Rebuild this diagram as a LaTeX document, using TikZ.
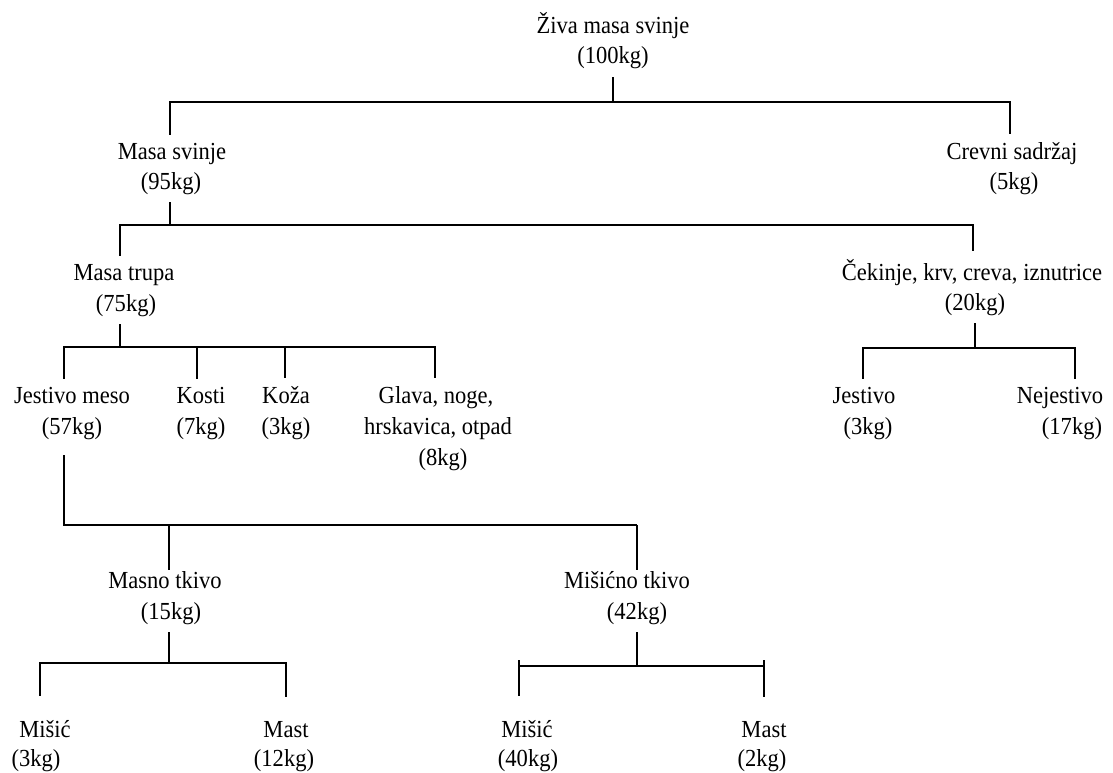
\documentclass[tikz,border=0pt]{standalone}
\usepackage{fontspec}
\setmainfont{Liberation Serif}[FakeStretch=0.92]
\begin{document}
\begin{tikzpicture}[x=1pt,y=-1pt,
  lbl/.style={inner xsep=0pt, inner ysep=8pt, outer sep=0pt, anchor=base,
    font=\fontsize{24.5}{30}\selectfont},
  conn/.style={draw=black, line width=2.5pt, line cap=butt, line join=miter}]
\useasboundingbox (0,0) rectangle (1113,773);
% nodes
\node[lbl] (root1) at (613,34) {Živa masa svinje};
\node[lbl] (root2) at (613,64) {(100kg)};
\node[lbl] (ms1) at (172,159) {Masa svinje};
\node[lbl] (ms2) at (171,189) {(95kg)};
\node[lbl] (cs1) at (1012,159) {Crevni sadržaj};
\node[lbl] (cs2) at (1014,189) {(5kg)};
\node[lbl] (mt1) at (124,280) {Masa trupa};
\node[lbl] (mt2) at (126,311) {(75kg)};
\node[lbl] (ck1) at (972,280) {Čekinje, krv, creva, iznutrice};
\node[lbl] (ck2) at (975,310) {(20kg)};
\node[lbl] (jm1) at (72,403) {Jestivo meso};
\node[lbl] (jm2) at (72,434) {(57kg)};
\node[lbl] (ko1) at (201,403) {Kosti};
\node[lbl] (ko2) at (201,434) {(7kg)};
\node[lbl] (kz1) at (286,403) {Koža};
\node[lbl] (kz2) at (286,434) {(3kg)};
\node[lbl] (gl1) at (436,403) {Glava, noge,};
\node[lbl] (gl2) at (438,434) {hrskavica, otpad};
\node[lbl] (gl3) at (443,465) {(8kg)};
\node[lbl] (je1) at (864,403) {Jestivo};
\node[lbl] (je2) at (868,434) {(3kg)};
\node[lbl] (ne1) at (1060,403) {Nejestivo};
\node[lbl] (ne2) at (1072,434) {(17kg)};
\node[lbl] (mk1) at (165,588) {Masno tkivo};
\node[lbl] (mk2) at (171,619) {(15kg)};
\node[lbl] (mi1) at (627,588) {Mišićno tkivo};
\node[lbl] (mi2) at (637,619) {(42kg)};
\node[lbl] (a1) at (45,737) {Mišić};
\node[lbl] (a2) at (36,766) {(3kg)};
\node[lbl] (b1) at (286,737) {Mast};
\node[lbl] (b2) at (284,766) {(12kg)};
\node[lbl] (c1) at (527,737) {Mišić};
\node[lbl] (c2) at (528,766) {(40kg)};
\node[lbl] (d1) at (764,737) {Mast};
\node[lbl] (d2) at (762,766) {(2kg)};
% bar coordinates
\coordinate (B1a) at (170,102); \coordinate (B1m) at (613,102); \coordinate (B1b) at (1010,102);
\coordinate (B2a) at (120,225); \coordinate (B2m) at (170,225); \coordinate (B2b) at (973,225);
\coordinate (B3a) at (64,347); \coordinate (B3m) at (120,347); \coordinate (B3b) at (197,347);
\coordinate (B3c) at (285,347); \coordinate (B3d) at (435,347);
\coordinate (B3Ra) at (863,348); \coordinate (B3Rm) at (975,348); \coordinate (B3Rb) at (1075,348);
\coordinate (B4a) at (64,525); \coordinate (B4m) at (169,525); \coordinate (B4b) at (637,525);
\coordinate (B5a) at (40,663); \coordinate (B5m) at (169,663); \coordinate (B5b) at (286,663);
\coordinate (B5Ra) at (519,666); \coordinate (B5Rm) at (637,666); \coordinate (B5Rb) at (764,666);
% connectors
\draw[conn] (root2.south -| B1m) -- (B1m);
\draw[conn] (ms1.north -| B1a) -- (B1a) -- (B1b) -- (cs1.north -| B1b);
\draw[conn] (ms2.south -| B2m) -- (B2m);
\draw[conn] (mt1.north -| B2a) -- (B2a) -- (B2b) -- (ck1.north -| B2b);
\draw[conn] (mt2.south -| B3m) -- (B3m);
\draw[conn] (jm1.north -| B3a) -- (B3a) -- (B3d) -- (gl1.north -| B3d);
\draw[conn] (B3b) -- (ko1.north -| B3b);
\draw[conn] (B3c) -- (kz1.north -| B3c);
\draw[conn] (ck2.south -| B3Rm) -- (B3Rm);
\draw[conn] (je1.north -| B3Ra) -- (B3Ra) -- (B3Rb) -- (ne1.north -| B3Rb);
\draw[conn, shorten <=8pt] (jm2.south -| B4a) -- (B4a) -- (B4b);
\draw[conn, shorten >=-7pt] (B4b) -- (mi1.north -| B4b);
\draw[conn, shorten >=-7pt] (B4m) -- (mk1.north -| B4m);
\draw[conn] (mk2.south -| B5m) -- (B5m);
\draw[conn, shorten <=16pt, shorten >=16pt] (a1.north -| B5a) -- (B5a) -- (B5b) -- (b1.north -| B5b);
\draw[conn] (mi2.south -| B5Rm) -- (B5Rm);
\draw[conn] (B5Ra) -- (B5Rb);
\draw[conn, shorten >=16pt] ([yshift=6pt]B5Ra) -- (c1.north -| B5Ra);
\draw[conn, shorten >=16pt] ([yshift=6pt]B5Rb) -- (d1.north -| B5Rb);
\end{tikzpicture}
\end{document}
